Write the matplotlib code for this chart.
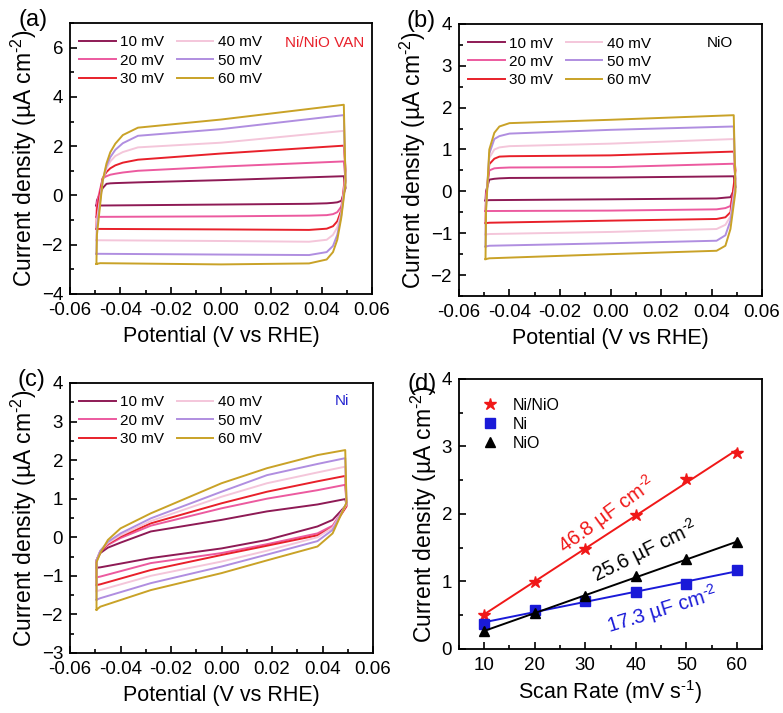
import numpy as np
import matplotlib
matplotlib.use('Agg')
import matplotlib.pyplot as plt
from matplotlib.ticker import MultipleLocator

plt.rcParams['font.family'] = ['Liberation Sans', 'DejaVu Sans']
plt.rcParams['mathtext.fontset'] = 'custom'
plt.rcParams['mathtext.rm'] = 'Liberation Sans'
plt.rcParams['mathtext.it'] = 'Liberation Sans:italic'
plt.rcParams['axes.linewidth'] = 1.3

# Scan rates shown in the CV legends
scan_labels = ['10 mV', '20 mV', '30 mV', '40 mV', '50 mV', '60 mV']
scan_colors = ['#8e1a55', '#ec5a9f', '#e8202a', '#f4c6da', '#b08ee0', '#c9a227']

# (a) Ni/NiO VAN: potential along the loop (V) and current density (uA cm-2)
pot_a = [-0.0495, -0.0493, -0.0470, -0.0455, -0.0440, -0.0420, -0.0390, -0.0330, 0.0000,
         0.0488, 0.0495, 0.0478, 0.0462, 0.0445, 0.0420, 0.0350, 0.0000, -0.0480, -0.0495]
cv_a_10 = [-0.41, -0.20, 0.30, 0.47, 0.49, 0.50, 0.51, 0.53, 0.62,
           0.78, 0.30, -0.22, -0.28, -0.30, -0.32, -0.34, -0.37, -0.41, -0.41]
cv_a_20 = [-0.87, -0.30, 0.70, 0.78, 0.84, 0.88, 0.93, 1.00, 1.17,
           1.38, 0.60, -0.45, -0.68, -0.76, -0.80, -0.82, -0.85, -0.87, -0.87]
cv_a_30 = [-1.36, -0.60, 0.70, 0.95, 1.10, 1.22, 1.33, 1.45, 1.70,
           2.02, 1.00, -0.60, -1.05, -1.25, -1.35, -1.40, -1.38, -1.36, -1.36]
cv_a_40 = [-1.82, -1.00, 0.60, 1.10, 1.38, 1.60, 1.76, 1.95, 2.14,
           2.62, 0.80, -0.70, -1.30, -1.60, -1.80, -1.88, -1.85, -1.82, -1.82]
cv_a_50 = [-2.37, -1.30, 0.60, 1.20, 1.55, 1.85, 2.12, 2.42, 2.69,
           3.26, 0.60, -0.80, -1.60, -2.05, -2.30, -2.42, -2.40, -2.37, -2.37]
cv_a_60 = [-2.78, -1.60, 0.60, 1.30, 1.75, 2.10, 2.45, 2.75, 3.08,
           3.68, 0.50, -0.90, -1.80, -2.30, -2.60, -2.76, -2.80, -2.75, -2.78]

# (b) NiO
pot_b = [-0.0495, -0.0493, -0.0480, -0.0460, -0.0440, -0.0400, 0.0000, 0.0488,
         0.0495, 0.0475, 0.0455, 0.0420, 0.0000, -0.0480, -0.0495]
cv_b_10 = [-0.22, 0.00, 0.28, 0.30, 0.31, 0.32, 0.33, 0.36,
           0.10, -0.14, -0.15, -0.17, -0.19, -0.21, -0.22]
cv_b_20 = [-0.47, -0.10, 0.50, 0.55, 0.56, 0.57, 0.58, 0.66,
           0.30, -0.35, -0.40, -0.43, -0.46, -0.47, -0.47]
cv_b_30 = [-0.76, -0.20, 0.65, 0.78, 0.83, 0.84, 0.86, 0.95,
           0.50, -0.50, -0.62, -0.66, -0.70, -0.75, -0.76]
cv_b_40 = [-1.03, -0.30, 0.80, 1.00, 1.05, 1.08, 1.14, 1.25,
           0.20, -0.60, -0.80, -0.90, -0.97, -1.02, -1.03]
cv_b_50 = [-1.32, -0.40, 0.90, 1.25, 1.32, 1.38, 1.47, 1.55,
           0.10, -0.70, -1.05, -1.18, -1.24, -1.30, -1.32]
cv_b_60 = [-1.62, -0.50, 1.00, 1.40, 1.55, 1.63, 1.71, 1.82,
           0.00, -0.90, -1.30, -1.42, -1.50, -1.60, -1.62]

# (c) Ni
pot_c = [-0.0495, -0.0495, -0.0480, -0.0450, -0.0400, -0.0280, 0.0000, 0.0180, 0.0380,
         0.0490, 0.0495, 0.0440, 0.0380, 0.0180, 0.0000, -0.0280, -0.0480, -0.0495]
cv_c_10 = [-0.79, -0.60, -0.41, -0.27, -0.14, 0.15, 0.45, 0.67, 0.85,
           0.99, 0.84, 0.45, 0.28, -0.07, -0.29, -0.54, -0.78, -0.79]
cv_c_20 = [-1.04, -0.60, -0.37, -0.20, -0.02, 0.30, 0.75, 1.00, 1.22,
           1.36, 0.85, 0.30, 0.10, -0.18, -0.41, -0.67, -1.02, -1.04]
cv_c_30 = [-1.24, -0.60, -0.37, -0.17, 0.02, 0.36, 0.88, 1.18, 1.45,
           1.59, 0.80, 0.25, 0.05, -0.22, -0.46, -0.85, -1.22, -1.24]
cv_c_40 = [-1.40, -0.60, -0.35, -0.15, 0.05, 0.42, 1.05, 1.40, 1.68,
           1.83, 0.85, 0.25, 0.00, -0.35, -0.63, -1.00, -1.37, -1.40]
cv_c_50 = [-1.62, -0.60, -0.35, -0.12, 0.10, 0.49, 1.18, 1.61, 1.90,
           2.05, 0.88, 0.19, -0.10, -0.45, -0.76, -1.19, -1.58, -1.62]
cv_c_60 = [-1.88, -0.65, -0.41, -0.07, 0.23, 0.62, 1.40, 1.79, 2.13,
           2.26, 0.90, 0.10, -0.24, -0.60, -0.93, -1.37, -1.80, -1.88]

# (d) current density at 0 V vs scan rate
scan_rate = [10, 20, 30, 40, 50, 60]
j_ninio = [0.51, 0.99, 1.48, 1.99, 2.52, 2.90]
j_ni = [0.37, 0.58, 0.71, 0.85, 0.96, 1.17]
j_nio = [0.27, 0.53, 0.78, 1.08, 1.33, 1.58]
cdl_labels = ['46.8 µF cm$^{\u20102}$', '25.6 µF cm$^{\u20102}$', '17.3 µF cm$^{\u20102}$']

TICK_FS = 13.5
LABEL_FS = 15.5
YLABEL = 'Current density (µA cm$^{\u20102}$)'


def style_axes(ax, xlim, ylim, xmaj, xmin, ymaj, ymin):
    ax.set_xlim(*xlim)
    ax.set_ylim(*ylim)
    ax.xaxis.set_major_locator(MultipleLocator(xmaj))
    ax.xaxis.set_minor_locator(MultipleLocator(xmin))
    ax.yaxis.set_major_locator(MultipleLocator(ymaj))
    ax.yaxis.set_minor_locator(MultipleLocator(ymin))
    ax.tick_params(which='both', direction='in', top=False, right=False,
                   labelsize=TICK_FS, pad=5, width=1.2)
    ax.tick_params(axis='x', pad=6)
    ax.tick_params(which='major', length=5)
    ax.tick_params(which='minor', length=3)
    ax.set_ylabel(YLABEL, fontsize=16.5, labelpad=2)


def draw_cv(ax, pot, curves, ylim, ymaj, ymin, tag, tag_color):
    for j, lab, col in zip(curves, scan_labels, scan_colors):
        ax.plot(pot, j, color=col, lw=1.4, label=lab)
    style_axes(ax, (-0.06, 0.06), ylim, 0.02, 0.01, ymaj, ymin)
    ax.xaxis.set_major_formatter(plt.FormatStrFormatter('%.2f'))
    ax.set_xlabel('Potential (V vs RHE)', fontsize=LABEL_FS, labelpad=5)
    ax.legend(loc='upper left', bbox_to_anchor=(0.02, 0.965), ncol=2, frameon=False,
              fontsize=11, handlelength=2.4, handletextpad=0.3, columnspacing=0.8,
              labelspacing=0.28, borderpad=0.2, borderaxespad=0)
    ax.text(0.975, 0.925, tag, color=tag_color, fontsize=11, ha='right', va='center',
            transform=ax.transAxes)


fig = plt.figure(figsize=(7.83, 7.13), dpi=100)
ax_a = fig.add_axes([0.0894, 0.5877, 0.3857, 0.3801])
ax_b = fig.add_axes([0.5862, 0.5849, 0.3870, 0.3815])
ax_c = fig.add_axes([0.0894, 0.0842, 0.3870, 0.3787])
ax_d = fig.add_axes([0.5862, 0.0898, 0.3870, 0.3787])

draw_cv(ax_a, pot_a, [cv_a_10, cv_a_20, cv_a_30, cv_a_40, cv_a_50, cv_a_60],
        (-4, 7), 2, 1, 'Ni/NiO VAN', '#e8202a')
draw_cv(ax_b, pot_b, [cv_b_10, cv_b_20, cv_b_30, cv_b_40, cv_b_50, cv_b_60],
        (-2.5, 4), 1, 0.5, 'NiO', 'black')
draw_cv(ax_c, pot_c, [cv_c_10, cv_c_20, cv_c_30, cv_c_40, cv_c_50, cv_c_60],
        (-3, 4), 1, 0.5, 'Ni', '#2424d0')
ax_b.texts[-1].set_position((0.905, 0.93))
ax_c.texts[-1].set_position((0.92, 0.933))

# (d) linear fits of current density vs scan rate
series = [(j_ninio, '#f01818', '*', 9, 'Ni/NiO'),
          (j_ni, '#1a1ad8', 's', 6.5, 'Ni'),
          (j_nio, 'black', '^', 7, 'NiO')]
for j, col, mk, ms, lab in series:
    k, b = np.polyfit(scan_rate, j, 1)
    ends = np.array([scan_rate[0], scan_rate[-1]])
    ax_d.plot(ends, k * ends + b, color=col, lw=1.4)
    ax_d.plot(scan_rate, j, ls='none', marker=mk, ms=ms, color=col, label=lab)
style_axes(ax_d, (5, 65), (0, 4), 10, 5, 1, 0.5)
ax_d.set_xlabel('Scan Rate (mV s$^{\u20101}$)', fontsize=LABEL_FS, labelpad=3)
ax_d.legend(loc='upper left', bbox_to_anchor=(0.063, 0.93), frameon=False, fontsize=11.5,
            handlelength=1.5, handletextpad=0.7, labelspacing=0.25, borderpad=0,
            borderaxespad=0)
ax_d.text(34.2, 1.99, cdl_labels[0], color='#f01818', fontsize=14.5, rotation=36,
          ha='center', va='center', rotation_mode='anchor')
ax_d.text(41.9, 1.45, cdl_labels[1], color='black', fontsize=14.5, rotation=26,
          ha='center', va='center', rotation_mode='anchor')
ax_d.text(45.2, 0.58, cdl_labels[2], color='#1a1ad8', fontsize=14.5, rotation=17,
          ha='center', va='center', rotation_mode='anchor')

# panel letters
for x, y, s in [(0.042, 0.972, '(a)'), (0.538, 0.970, '(b)'),
                (0.040, 0.467, '(c)'), (0.539, 0.461, '(d)')]:
    fig.text(x, y, s, fontsize=17, ha='center', va='center')

fig.savefig('out.png', dpi=100)
